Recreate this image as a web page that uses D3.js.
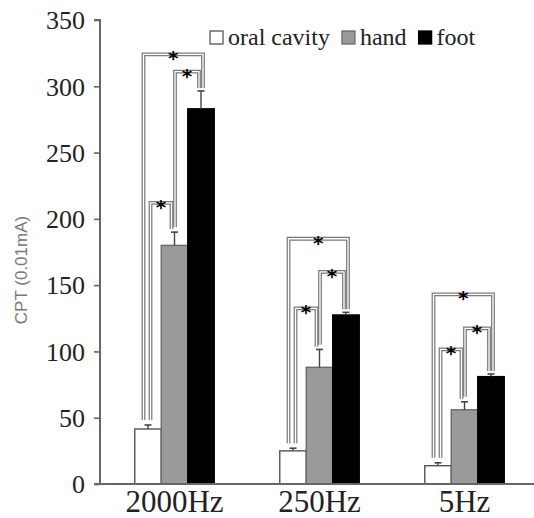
<!DOCTYPE html>
<html>
<head>
<meta charset="utf-8">
<script src="https://cdn.jsdelivr.net/npm/d3@7"></script>
<style>
  html, body { margin: 0; padding: 0; background: #fff; }
  svg { display: block; }
</style>
</head>
<body>
<svg id="chart" width="534" height="518"></svg>
<script>
// ---- data ----
const categories = ["2000Hz", "250Hz", "5Hz"];
const seriesNames = ["oral cavity", "hand", "foot"];
const oralValues = [41.5, 25, 13.8];
const handValues = [180, 88, 56];
const footValues = [283, 127.5, 81];
const oralErrors = [3, 2, 2.2];
const handErrors = [10, 13.5, 6];
const footErrors = [13.5, 2, 2];
const yTicks = [0, 50, 100, 150, 200, 250, 300, 350];
const yTitle = "CPT (0.01mA)";
// significance brackets: pairs of series indices, and level (value units) per category
const bracketPairs = [[0, 2], [0, 1], [1, 2]];
const bracketLevels2000 = [324, 212, 311];
const bracketLevels250 = [185, 132.5, 160];
const bracketLevels5 = [143, 101.6, 117.4];
const bracketMark = "*";

// ---- build ----
const seriesValues = [oralValues, handValues, footValues];
const seriesErrors = [oralErrors, handErrors, footErrors];
const bracketLevels = [bracketLevels2000, bracketLevels250, bracketLevels5];
const fills = ["#ffffff", "#9a9a9a", "#000000"];
const strokes = ["#555555", "#6a6a6a", "#000000"];

const svg = d3.select("#chart");
const serif = "'Liberation Serif', 'Times New Roman', serif";

const y = d3.scaleLinear().domain([0, 350]).range([484, 20]);
const x0 = d3.scaleBand().domain(categories).range([102, 537]).paddingInner(0.452).paddingOuter(0.226);
const x1 = d3.scaleBand().domain(d3.range(seriesNames.length)).range([0, x0.bandwidth()]);

// bars
const groups = svg.append("g").selectAll("g").data(categories).join("g")
  .attr("transform", d => `translate(${x0(d)},0)`);
groups.each(function (cat, ci) {
  const g = d3.select(this);
  seriesNames.forEach((s, si) => {
    const v = seriesValues[si][ci];
    g.append("rect")
      .attr("x", x1(si))
      .attr("y", y(v))
      .attr("width", x1.bandwidth())
      .attr("height", y(0) - y(v))
      .attr("fill", fills[si])
      .attr("stroke", strokes[si])
      .attr("stroke-width", 1.4);
    // error bar
    const cx = x1(si) + x1.bandwidth() / 2;
    const e = seriesErrors[si][ci];
    g.append("line").attr("x1", cx).attr("x2", cx)
      .attr("y1", y(v)).attr("y2", y(v + e))
      .attr("stroke", "#444").attr("stroke-width", 1.4);
    g.append("line").attr("x1", cx - 3.5).attr("x2", cx + 3.5)
      .attr("y1", y(v + e)).attr("y2", y(v + e))
      .attr("stroke", "#444").attr("stroke-width", 1.6);
  });
});

// brackets
const legOffset = { "0-2": [-4.5, 2], "0-1": [2.5, -3], "1-2": [0.5, -2] };
const bg = svg.append("g");
categories.forEach((cat, ci) => {
  bracketPairs.forEach((pair, bi) => {
    const [a, b] = pair;
    const off = legOffset[a + "-" + b];
    const xa = x0(cat) + x1(a) + x1.bandwidth() / 2 + off[0];
    const xb = x0(cat) + x1(b) + x1.bandwidth() / 2 + off[1];
    const top = y(bracketLevels[ci][bi]);
    const ya = y(seriesValues[a][ci] + seriesErrors[a][ci]) - 5;
    const yb = y(seriesValues[b][ci] + seriesErrors[b][ci]) - 3;
    const p = `M${xa},${ya}V${top}H${xb}V${yb}`;
    bg.append("path").attr("d", p).attr("fill", "none")
      .attr("stroke", "#7a7a7a").attr("stroke-width", 3.8);
    bg.append("path").attr("d", p).attr("fill", "none")
      .attr("stroke", "#ffffff").attr("stroke-width", 1.3);
    bg.append("text")
      .attr("x", (xa + xb) / 2)
      .attr("y", top + 11)
      .attr("text-anchor", "middle")
      .attr("font-family", "'DejaVu Sans', sans-serif")
      .attr("font-weight", "bold")
      .attr("font-size", 20)
      .attr("fill", "#000")
      .text(bracketMark);
  });
});

// y axis
const yAxis = svg.append("g").attr("transform", "translate(100,0)")
  .call(d3.axisLeft(y).tickValues(yTicks).tickSize(6).tickPadding(9));
yAxis.select(".domain").attr("stroke", "#666").attr("stroke-width", 2)
  .attr("d", `M-6,${y(0)}H0V${y(350)}H-6`);
yAxis.selectAll(".tick line").attr("stroke", "#666").attr("stroke-width", 1.6);
yAxis.selectAll(".tick text").attr("font-family", serif).attr("font-size", 26)
  .attr("fill", "#222").attr("dy", "0.34em");

// x axis
const xAxis = svg.append("g").attr("transform", `translate(0,${y(0)})`)
  .call(d3.axisBottom(x0).tickSize(0).tickPadding(6));
xAxis.select(".domain").attr("stroke", "#666").attr("stroke-width", 2)
  .attr("d", `M94,0H534`);
xAxis.selectAll(".tick text").attr("font-family", serif).attr("font-size", 31)
  .attr("fill", "#222");

// y title
svg.append("text")
  .attr("transform", `translate(27,270) rotate(-90)`)
  .attr("text-anchor", "middle")
  .attr("font-family", "'Liberation Sans', Arial, sans-serif")
  .attr("font-size", 17)
  .attr("fill", "#777")
  .text(yTitle);

// legend
const legend = svg.append("g");
let lx = 210;
seriesNames.forEach((s, si) => {
  legend.append("rect").attr("x", lx).attr("y", 31).attr("width", 13).attr("height", 13)
    .attr("fill", fills[si]).attr("stroke", strokes[si]).attr("stroke-width", 1.3);
  const t = legend.append("text").attr("x", lx + 18).attr("y", 45)
    .attr("font-family", serif).attr("font-size", 24).attr("fill", "#222").text(s);
  lx = lx + 18 + t.node().getComputedTextLength() + 12;
});
</script>
</body>
</html>
